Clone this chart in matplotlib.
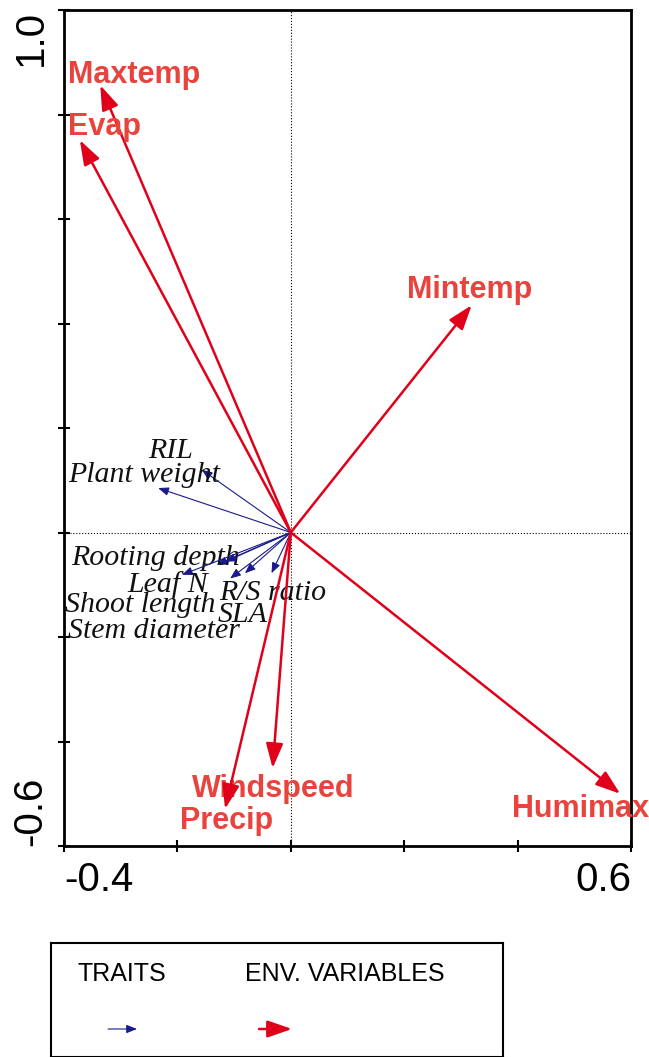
import matplotlib.pyplot as plt
import numpy as np

# Species traits (blue arrows)
trait_names = ["RIL", "Plant weight", "Rooting depth", "Leaf N",
               "R/S ratio", "Shoot length", "SLA", "Stem diameter"]
trait_x = [-0.157, -0.234, -0.131, -0.192, -0.034, -0.116, -0.081, -0.107]
trait_y = [0.120, 0.085, -0.062, -0.081, -0.078, -0.056, -0.078, -0.088]

# Environmental variables (red arrows)
env_names = ["Maxtemp", "Evap", "Mintemp", "Humimax", "Windspeed", "Precip"]
env_x = [-0.336, -0.372, 0.319, 0.581, -0.032, -0.116]
env_y = [0.856, 0.751, 0.435, -0.500, -0.451, -0.529]

# label offsets from arrow tips (pixels, left/baseline of text)
trait_offsets = [(-54, 12), (-90, 6), (-145, 0), (-55, -17),
                 (-52, -27), (-160, -50), (-27, -49), (-162, -60)]
env_offsets = [(-32, 2), (-12, 5), (-65, 7), (-108, -23), (-81, -29), (-45, -20)]

BLUE = '#1a1a8c'
RED_ARROW = '#e0001a'
RED_TEXT = '#e8433c'

plt.rcParams['font.family'] = ['Liberation Sans', 'DejaVu Sans']

fig = plt.figure(figsize=(6.49, 10.57), dpi=100)
ax = fig.add_axes([64 / 649, 211 / 1057, 567 / 649, 836 / 1057])
ax.set_xlim(-0.4, 0.6)
ax.set_ylim(-0.6, 1.0)

ax.axvline(0, color='black', lw=0.8, ls=':')
ax.axhline(0, color='black', lw=0.8, ls=':')

for name, x, y, off in zip(trait_names, trait_x, trait_y, trait_offsets):
    ax.annotate('', xy=(x, y), xytext=(0, 0),
                arrowprops=dict(arrowstyle='-|>,head_length=0.45,head_width=0.18',
                                mutation_scale=14, color=BLUE, lw=0.8,
                                shrinkA=0, shrinkB=0))
    ax.annotate(name, xy=(x, y), xytext=off, textcoords='offset pixels',
                ha='left', va='baseline', fontsize=21.5, style='italic',
                family='Liberation Serif', color='#111111')

for name, x, y, off in zip(env_names, env_x, env_y, env_offsets):
    ax.annotate('', xy=(x, y), xytext=(0, 0),
                arrowprops=dict(arrowstyle='-|>,head_length=0.75,head_width=0.26',
                                mutation_scale=20, color=RED_ARROW, lw=1.8,
                                shrinkA=0, shrinkB=0))
    ax.annotate(name, xy=(x, y), xytext=off, textcoords='offset pixels',
                ha='left', va='baseline', fontsize=22, fontweight='bold',
                color=RED_TEXT, annotation_clip=False)

# ticks every 0.2, labels only at the ends
xt = np.round(np.arange(-0.4, 0.61, 0.2), 1)
yt = np.round(np.arange(-0.6, 1.01, 0.2), 1)
ax.set_xticks(xt)
ax.set_yticks(yt)
ax.set_xticklabels([f'{v:.1f}' if v in (-0.4, 0.6) else '' for v in xt])
ax.set_yticklabels([f'{v:.1f}' if v in (-0.6, 1.0) else '' for v in yt],
                   rotation=90)
ax.tick_params(direction='inout', length=9, width=1.5, labelsize=29, pad=6)
xl = ax.get_xticklabels()
xl[0].set_ha('left')
xl[-1].set_ha('right')
yl = ax.get_yticklabels()
yl[0].set_va('bottom')
yl[-1].set_va('top')
for s in ax.spines.values():
    s.set_linewidth(2)

# legend panel
lax = fig.add_axes([51 / 649, 0.0, 452 / 649, 114 / 1057])
lax.set_xlim(0, 452)
lax.set_ylim(0, 114)
lax.set_xticks([])
lax.set_yticks([])
for s in lax.spines.values():
    s.set_linewidth(1.5)
lax.text(26, 83, 'TRAITS', fontsize=18, va='center', ha='left')
lax.text(194, 83, 'ENV. VARIABLES', fontsize=18, va='center', ha='left')
lax.annotate('', xy=(86, 28), xytext=(57, 28),
             arrowprops=dict(arrowstyle='-|>,head_length=0.45,head_width=0.18',
                             mutation_scale=14, color=BLUE, lw=0.8,
                             shrinkA=0, shrinkB=0))
lax.annotate('', xy=(241, 28), xytext=(208, 28),
             arrowprops=dict(arrowstyle='-|>,head_length=0.75,head_width=0.26',
                             mutation_scale=20, color=RED_ARROW, lw=1.8,
                             shrinkA=0, shrinkB=0))

fig.savefig('out.png', dpi=100)
